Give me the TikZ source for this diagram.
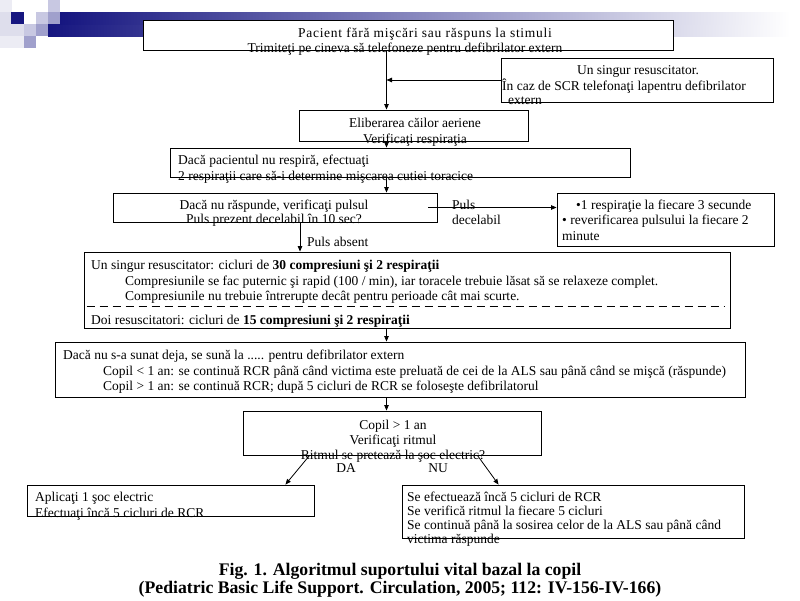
\documentclass[tikz,border=0pt]{standalone}
\usepackage{fontspec}
\setmainfont{Liberation Serif}
\usetikzlibrary{arrows.meta}
\definecolor{navyb}{RGB}{22,22,128}
\definecolor{paleA}{RGB}{236,236,244}
\definecolor{paleB}{RGB}{222,222,236}
\definecolor{lavL}{RGB}{200,200,226}
\definecolor{lavM}{RGB}{160,160,204}
\begin{document}
\begin{tikzpicture}[x=1pt,y=-1pt,
  box/.style={draw, line width=0.9pt, fill=white, inner sep=0pt},
  txt/.style={inner sep=0pt, yshift=-1pt, text height=9.5pt, text depth=3pt, font=\fontsize{13.5}{15}\selectfont},
  captxt/.style={inner sep=0pt, font=\fontsize{17.7}{20}\selectfont\bfseries},
  arr/.style={line width=0.8pt, -{Triangle[length=5.5pt,width=4.5pt]}}]
\fill[white] (0,0) rectangle (800,600);
\useasboundingbox (0,0) rectangle (800,600);
% decoration
\fill[paleA] (0,0) rectangle (12,12);
\fill[lavL] (48,0) rectangle (60,12);
\fill[paleB] (0,12) rectangle (11,24);
\fill[navyb] (11,12) rectangle (24,24);
\fill[lavL] (36,12) rectangle (48,24);
\fill[lavM] (48,12) rectangle (60,24);
\fill[paleB] (0,24) rectangle (24,36);
\fill[lavL] (24,24) rectangle (36,36);
\fill[lavM] (36,24) rectangle (48,36);
\fill[paleA] (0,36) rectangle (24,48);
\fill[lavM] (24,36) rectangle (36,48);
\shade[left color=navyb, right color=white] (48,24) rectangle (790,36);
\shade[left color=navyb, right color=white] (60,12) rectangle (790,24.3);
\coordinate (sp) at (386.5,0);
% boxes
\node[box, minimum width=530pt, minimum height=30pt] (A) at (408,35) {};
\node[box, minimum width=272pt, minimum height=44pt] (B) at (637,80) {};
\node[box, minimum width=229pt, minimum height=31pt] (C) at (413.5,125.5) {};
\node[box, minimum width=460pt, minimum height=29pt] (D) at (400,162.5) {};
\node[box, minimum width=324pt, minimum height=29pt] (E) at (275,207.5) {};
\node[box, minimum width=217pt, minimum height=53pt] (F) at (665.5,219.5) {};
\node[box, minimum width=646pt, minimum height=76pt] (G) at (407,290) {};
\node[box, minimum width=690pt, minimum height=55pt] (H) at (400,369.5) {};
\node[box, minimum width=298pt, minimum height=44pt] (I) at (392,433) {};
\node[box, minimum width=287pt, minimum height=31pt] (J) at (170.5,500.5) {};
\node[box, minimum width=342pt, minimum height=53pt] (K) at (573,511.5) {};
% texts
\node[txt] (a1) at (425,33) {\addfontfeature{LetterSpace=5.5}Pacient fără mişcări sau răspuns la stimuli};
\node[txt] (a2) at (405,48) {Trimiteţi pe cineva să telefoneze pentru defibrilator extern};
\node[txt] (b1) at (638,70) {Un singur resuscitator.};
\node[txt, anchor=west] (b2) at (502,86) {În caz de SCR telefonaţi lapentru defibrilator};
\node[txt, anchor=west] (b3) at (508,100) {extern};
\node[txt] (c1) at (415,123) {Eliberarea căilor aeriene};
\node[txt] (c2) at (415,139) {Verificaţi respiraţia};
\node[txt, anchor=west] (d1) at (178,160) {Dacă pacientul nu respiră, efectuaţi};
\node[txt, anchor=west] (d2) at (178,176) {2 respiraţii care să-i determine mişcarea cutiei toracice};
\node[txt] (e1) at (274,205) {Dacă nu răspunde, verificaţi pulsul};
\node[txt] (e2) at (274,219) {Puls prezent decelabil în 10 sec?};
\node[txt, anchor=west] (p1) at (452,205) {Puls};
\node[txt, anchor=west] (p2) at (452,220) {decelabil};
\node[txt, anchor=west] (f1) at (576,205) {•1 respiraţie la fiecare 3 secunde};
\node[txt, anchor=west] (f2) at (562,220) {• reverificarea pulsului la fiecare 2};
\node[txt, anchor=west] (f3) at (562,236) {minute};
\node[txt, anchor=west] (pa) at (307,242) {Puls absent};
\node[txt, anchor=west] (g1) at (91,265) {Un singur resuscitator: cicluri de \textbf{30 compresiuni şi 2 respiraţii}};
\node[txt, anchor=west] (g2) at (125,281) {Compresiunile se fac puternic şi rapid (100 / min), iar toracele trebuie lăsat să se relaxeze complet.};
\node[txt, anchor=west] (g3) at (125,296) {Compresiunile nu trebuie întrerupte decât pentru perioade cât mai scurte.};
\node[txt, anchor=west] (g4) at (91,320) {Doi resuscitatori: cicluri de \textbf{15 compresiuni şi 2 respiraţii}};
\draw[line width=0.8pt, dash pattern=on 8pt off 5pt] ([xshift=3pt]G.west |- 0,306) -- ([xshift=-5pt]G.east |- 0,306);
\node[txt, anchor=west] (h1) at (63,355) {Dacă nu s-a sunat deja, se sună la ..... pentru defibrilator extern};
\node[txt, anchor=west] (h2) at (103,371) {Copil < 1 an: se continuă RCR până când victima este preluată de cei de la ALS sau până când se mişcă (răspunde)};
\node[txt, anchor=west] (h3) at (103,386) {Copil > 1 an: se continuă RCR; după 5 cicluri de RCR se foloseşte defibrilatorul};
\node[txt] (i1) at (393,425) {Copil > 1 an};
\node[txt] (i2) at (393,440) {Verificaţi ritmul};
\node[txt] (i3) at (393,455) {Ritmul se pretează la şoc electric?};
\node[txt] (da) at (346,468) {DA};
\node[txt] (nu) at (438,468) {NU};
\node[txt, anchor=west] (j1) at (35,497) {Aplicaţi 1 şoc electric};
\node[txt, anchor=west] (j2) at (35,513) {Efectuaţi încă 5 cicluri de RCR};
\node[txt, anchor=west] (k1) at (407,497) {Se efectuează încă 5 cicluri de RCR};
\node[txt, anchor=west] (k2) at (407,511) {Se verifică ritmul la fiecare 5 cicluri};
\node[txt, anchor=west] (k3) at (407,525) {Se continuă până la sosirea celor de la ALS sau până când};
\node[txt, anchor=west] (k4) at (407,539) {victima răspunde};
\node[captxt] (t1) at (400,571) {Fig. 1. Algoritmul suportului vital bazal la copil};
\node[captxt] (t2) at (400,589) {(Pediatric Basic Life Support. Circulation, 2005; 112: IV-156-IV-166)};
% connectors
\draw[arr] (A.south -| sp) -- (C.north -| sp);
\draw[arr] (B.west) -- (B.west -| sp);
\draw[arr] (C.south -| sp) -- (D.north -| sp);
\draw[arr] (D.south -| sp) -- (E.north -| sp);
\draw[arr] ([xshift=-9pt]E.east) -- (E.east -| F.west);
\draw[arr] ([xshift=25pt]E.south) -- ([xshift=25pt]E.south |- G.north);
\draw[arr] (G.south -| sp) -- (H.north -| sp);
\draw[arr] (H.south -| sp) -- (I.north -| sp);
\draw[arr] ([xshift=67pt]I.south west) -- ([xshift=-29pt]J.north east);
\draw[arr] ([xshift=-64pt]I.south east) -- ([xshift=97pt]K.north west);
\end{tikzpicture}
\end{document}
